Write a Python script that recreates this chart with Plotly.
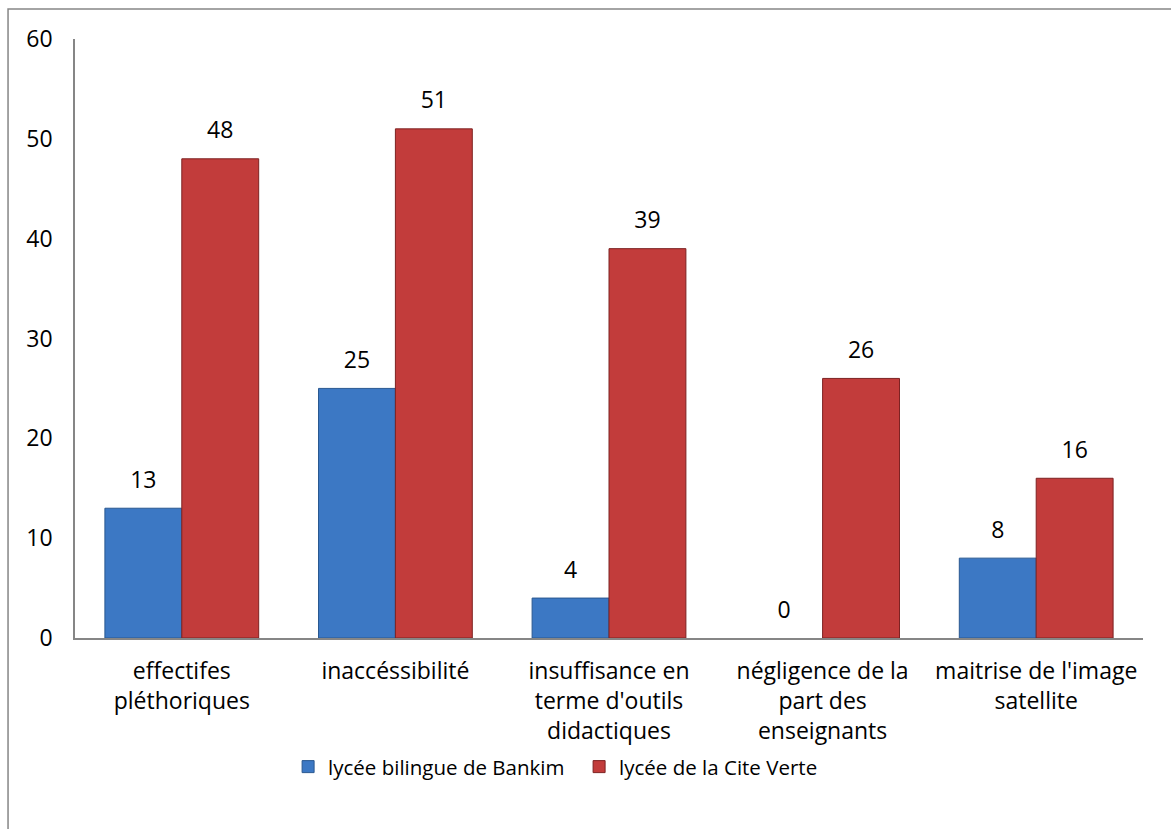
import plotly.graph_objects as go

categories = [
    "effectifes<br>pléthoriques",
    "inaccéssibilité",
    "insuffisance en<br>terme d'outils<br>didactiques",
    "négligence de la<br>part des<br>enseignants",
    "maitrise de l'image<br>satellite",
]
bankim = [13, 25, 4, 0, 8]
cite_verte = [48, 51, 39, 26, 16]
series_names = ["lycée bilingue de Bankim", "lycée de la Cite Verte"]
y_ticks = [0, 10, 20, 30, 40, 50, 60]

FONT = "Open Sans"
FS = 23
fig = go.Figure()

colors = ["#3c78c4", "#c23c3b"]
edges = ["#2a5890", "#7d2222"]
for name, vals, col, edge, grp in zip(series_names, [bankim, cite_verte], colors, edges, ["a", "b"]):
    fig.add_trace(go.Bar(
        x=categories, y=vals, name=name, offsetgroup=grp,
        marker=dict(color=col, line=dict(color=edge, width=[1 if v > 0 else 0 for v in vals])),
    ))
for vals, grp in zip([bankim, cite_verte], ["a", "b"]):
    fig.add_trace(go.Scatter(
        x=categories, y=vals, mode="markers+text", offsetgroup=grp,
        text=[str(v) for v in vals], textposition="top center",
        marker=dict(size=22, opacity=0), showlegend=False, hoverinfo="skip",
        textfont=dict(family=FONT, size=FS, color="#000000"), cliponaxis=False,
    ))

fig.update_layout(
    width=1171, height=829,
    barmode="group", bargap=0.28, bargroupgap=0,
    scattermode="group", scattergap=0.28,
    plot_bgcolor="white", paper_bgcolor="white",
    margin=dict(l=75, r=28, t=39, b=191),
    font=dict(family=FONT, size=FS, color="#000000"),
    showlegend=True,
    legend=dict(orientation="h", x=0.472, xanchor="center", y=-0.215, yanchor="middle",
                font=dict(family=FONT, size=20.5), itemwidth=30,
                entrywidth=246, entrywidthmode="pixels",
                tracegroupgap=0),
    xaxis=dict(showline=True, linecolor="#868686", linewidth=1.5, ticks="",
               tickfont=dict(family=FONT, size=FS), showgrid=False,
               ticklabelstandoff=12),
    yaxis=dict(range=[0, 60], tickvals=y_ticks, showline=True, linecolor="#868686",
               linewidth=1.5, ticks="", showgrid=False, zeroline=False,
               ticklabelstandoff=16, tickfont=dict(family=FONT, size=FS)),
    shapes=[dict(type="rect", xref="paper", yref="paper",
                 x0=-0.0627, x1=1.05, y0=-0.35, y1=1.05,
                 line=dict(color="#868686", width=1.5), fillcolor="rgba(0,0,0,0)",
                 layer="below")],
)

fig.write_html("out.html")
